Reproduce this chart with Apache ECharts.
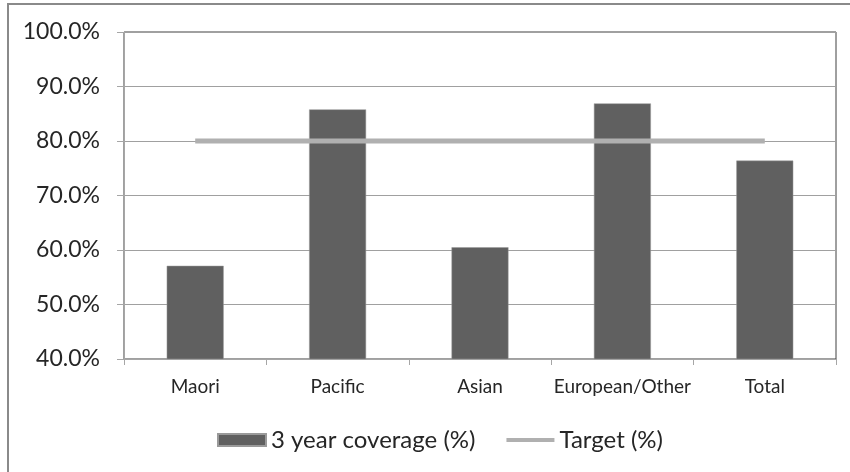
<!DOCTYPE html>
<html><head><meta charset="utf-8">
<script src="https://cdn.jsdelivr.net/npm/echarts@6/dist/echarts.min.js"></script>
<style>html,body{margin:0;padding:0;background:#fff}#c{width:850px;height:472px}</style>
</head><body><div id="c"></div>
<script>
var categories = ['Maori', 'Pacific', 'Asian', 'European/Other', 'Total'];
var coverage = [57.1, 85.8, 60.5, 86.9, 76.4];
var target = [80, 80, 80, 80, 80];
var yTicks = [40, 50, 60, 70, 80, 90, 100];

var FONT = 'Lato, "Open Sans", sans-serif';
var chart = echarts.init(document.getElementById('c'), null, {renderer: 'canvas'});
chart.setOption({
  animation: false,
  backgroundColor: '#fff',
  graphic: [
    {type: 'line', shape: {x1: 8, y1: 3, x2: 8, y2: 472}, style: {stroke: '#8a8a8a', lineWidth: 2}, silent: true},
    {type: 'line', shape: {x1: 8, y1: 4, x2: 850, y2: 4}, style: {stroke: '#8a8a8a', lineWidth: 2}, silent: true}
  ],
  grid: {left: 124, right: 14, top: 32, bottom: 113, show: true, borderColor: '#404040', borderWidth: 1},
  legend: {
    left: 212, top: 423,
    itemWidth: 48, itemHeight: 12, itemGap: 31,
    textStyle: {fontFamily: FONT, fontSize: 24, color: '#262626'},
    data: [
      {name: '3 year coverage (%)', icon: 'rect'},
      {name: 'Target (%)', icon: 'path://M0,0 M48,12 M0,4 L48,4 L48,8 L0,8 Z'}
    ]
  },
  xAxis: {
    type: 'category', data: categories, boundaryGap: true,
    axisLine: {lineStyle: {color: '#a6a6a6', width: 1}},
    axisTick: {show: true, interval: 0, length: 6, lineStyle: {color: '#a6a6a6'}},
    axisLabel: {interval: 0, fontFamily: FONT, fontSize: 19, color: '#262626', margin: 18},
    splitLine: {show: false}
  },
  yAxis: {
    type: 'value', min: yTicks[0], max: yTicks[yTicks.length - 1], interval: 10,
    axisLine: {show: true, lineStyle: {color: '#a6a6a6', width: 1}},
    axisTick: {show: true, length: 7, lineStyle: {color: '#a6a6a6'}},
    axisLabel: {fontFamily: FONT, fontSize: 23, color: '#262626', margin: 24,
      formatter: function (v) { return v.toFixed(1) + '%'; }},
    splitLine: {show: true, lineStyle: {color: '#a0a0a0', width: 1}}
  },
  series: [
    {name: '3 year coverage (%)', type: 'bar', data: coverage, barWidth: '40%',
     itemStyle: {color: '#606060', borderColor: '#9a9a9a', borderWidth: 0.5}, z: 2},
    {name: 'Target (%)', type: 'line', data: target, symbol: 'none', showSymbol: false,
     lineStyle: {color: '#b0b0b0', width: 5}, itemStyle: {color: '#b0b0b0'}, z: 3}
  ]
});
</script></body></html>
